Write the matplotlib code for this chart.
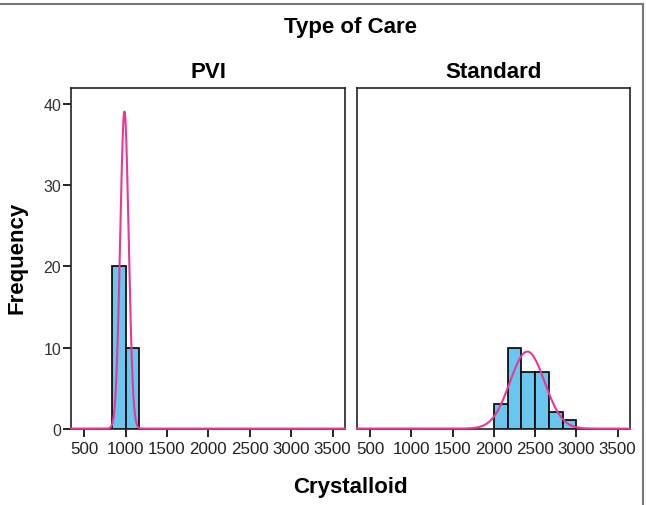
import numpy as np
import matplotlib
matplotlib.use("Agg")
import matplotlib.pyplot as plt

plt.rcParams['font.family'] = ['Liberation Sans', 'DejaVu Sans']

# ---------------------- DATA ----------------------
groups = ["PVI", "Standard"]
bin_width = 500 / 3
pvi_edges = [833.3, 1000.0]
pvi_counts = [20, 10]
std_edges = [2000.0, 2166.7, 2333.3, 2500.0, 2666.7, 2833.3]
std_counts = [3, 10, 7, 7, 2, 1]
# fitted normal curve (mean, sd) per group
pvi_fit = (985, 51)
std_fit = (2405, 210)
x_ticks = [500, 1000, 1500, 2000, 2500, 3000, 3500]
y_ticks = [0, 10, 20, 30, 40]

bar_color = "#69C6EE"
curve_color = "#EC3597"

# ---------------------- FIGURE ----------------------
fig = plt.figure(figsize=(6.46, 5.06), dpi=100)
ax1 = fig.add_axes([0.110, 0.151, 0.424, 0.673])
ax2 = fig.add_axes([0.5526, 0.151, 0.4226, 0.673])

xs = np.linspace(340, 3650, 800)
for ax, name, edges, counts, fit in [(ax1, "PVI", pvi_edges, pvi_counts, pvi_fit),
                                     (ax2, "Standard", std_edges, std_counts, std_fit)]:
    ax.bar(edges, counts, width=bin_width, align="edge", color=bar_color,
           edgecolor="black", linewidth=1.2, zorder=2)
    n = sum(counts)
    mu, sd = fit
    ys = n * bin_width * np.exp(-0.5 * ((xs - mu) / sd) ** 2) / (sd * np.sqrt(2 * np.pi))
    ax.plot(xs, ys, color=curve_color, linewidth=1.5, zorder=3, clip_on=False)
    ax.set_xlim(340, 3650)
    ax.set_ylim(0, 42)
    ax.set_xticks(x_ticks)
    ax.tick_params(axis="x", direction="out", length=6, width=1.2, labelsize=12.2,
                   pad=3, labelcolor="#222222")
    ax.tick_params(axis="y", direction="out", length=6, width=1.2, labelsize=11.5,
                   pad=1, labelcolor="#333333")
    for s in ax.spines.values():
        s.set_linewidth(1.2)
        s.set_color("#222222")
    ax.set_title(name, fontsize=16, fontweight="bold", pad=8)

ax1.set_yticks(y_ticks)
ax2.set_yticks([])

fig.text(0.026, 0.49, "Frequency", rotation=90, ha="center", va="center",
         fontsize=16, fontweight="bold")
fig.text(0.542, 0.946, "Type of Care", ha="center", va="center", fontsize=16, fontweight="bold")
fig.text(0.542, 0.037, "Crystalloid", ha="center", va="center", fontsize=16, fontweight="bold")

# outer frame lines (top and right)
fig.add_artist(plt.Line2D([0, 0.995], [0.99, 0.99], color="#777777", linewidth=1.5))
fig.add_artist(plt.Line2D([0.995, 0.995], [0, 0.99], color="#777777", linewidth=1.5))

fig.savefig("out.png", dpi=100)
